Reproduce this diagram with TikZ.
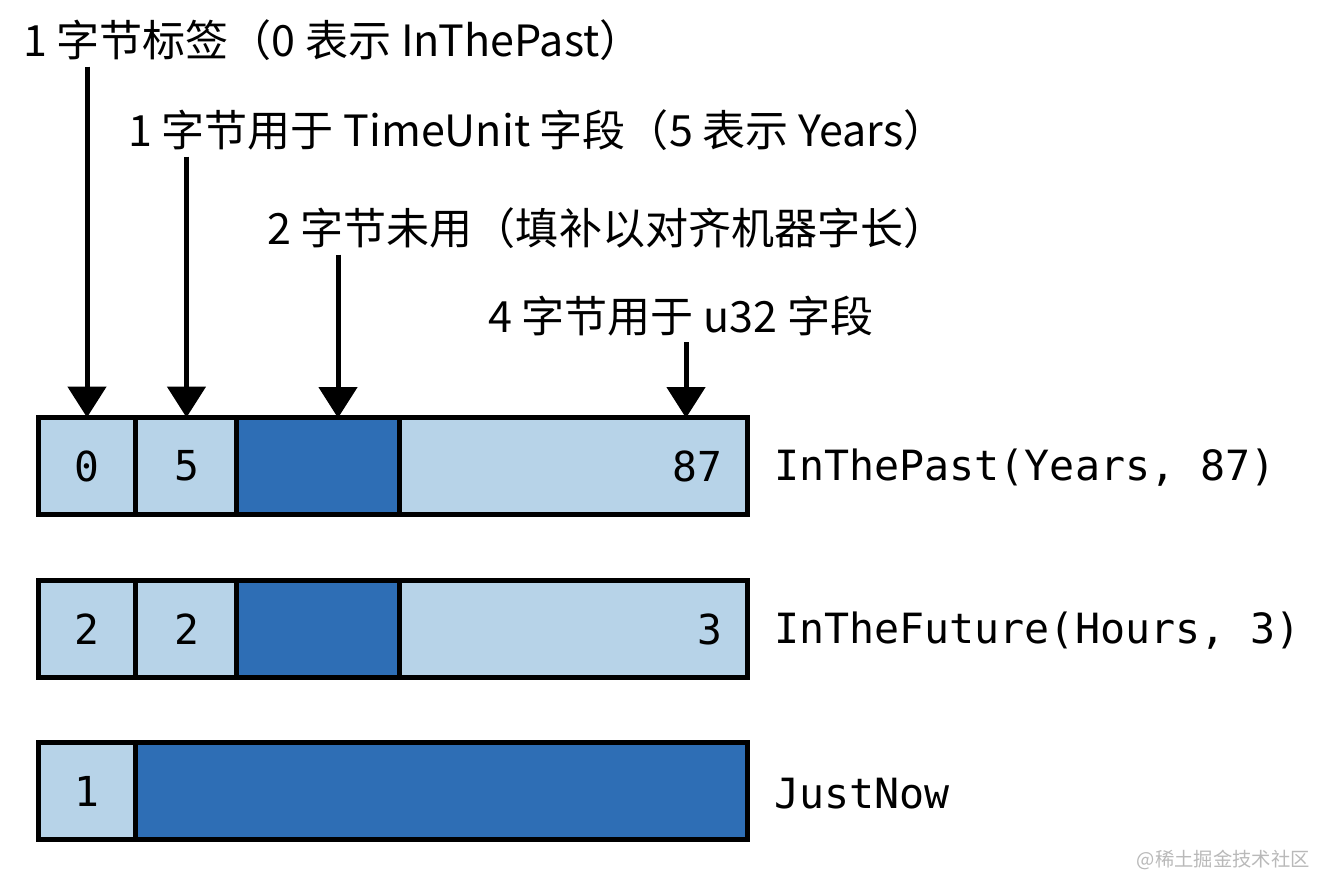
\documentclass[tikz,border=0pt]{standalone}
\usepackage{fontspec}
\setmainfont{Noto Sans CJK SC}
\setmonofont{DejaVu Sans Mono}
\usetikzlibrary{arrows.meta, positioning}
\usepackage{xcolor}

\definecolor{lightcell}{RGB}{183,211,232}
\definecolor{darkcell}{RGB}{46,110,181}

\begin{document}
\begin{tikzpicture}[x=0.02cm, y=-0.02cm, node distance=0pt,
    cell/.style={rectangle, draw=black, line width=0.1cm, outer sep=0pt, inner sep=0pt, minimum height=1.94cm, font=\ttfamily\fontsize{23.5}{23.5}\selectfont},
    light/.style={cell, fill=lightcell},
    dark/.style={cell, fill=darkcell},
    note/.style={anchor=west, font=\fontsize{24.5}{24.5}\selectfont},
    code/.style={anchor=west, font=\ttfamily\fontsize{23.7}{23.7}\selectfont},
    pointer/.style={-{Triangle[width=0.76cm, length=0.62cm]}, line width=0.1cm}]
    \useasboundingbox (0,0) rectangle (1322,878);

    % Notes
    \node (tagNote) [note] at (17,40) {1 字节标签（0 表示 InThePast）};
    \node (unitNote) [note] at (122,130) {1 字节用于 TimeUnit 字段（5 表示 Years）};
    \node (padNote) [note] at (261,228) {2 字节未用（填补以对齐机器字长）};
    \node (valNote) [note] at (482,316) {4 字节用于 u32 字段};

    % Row 1
    \node (pastTag) [light, minimum width=1.96cm] at (87,466) {0};
    \node (pastUnit) [light, minimum width=2.02cm, right=of pastTag] {5};
    \node (pastPad) [dark, minimum width=3.26cm, right=of pastUnit] {};
    \node (pastVal) [light, minimum width=6.96cm, text width=5.95cm, align=right, right=of pastPad] {87};
    \node (pastCode) [code] at (768,468) {InThePast(Years, 87)};

    % Row 2
    \node (futTag) [light, minimum width=1.96cm] at (87,629) {2};
    \node (futUnit) [light, minimum width=2.02cm, right=of futTag] {2};
    \node (futPad) [dark, minimum width=3.26cm, right=of futUnit] {};
    \node (futVal) [light, minimum width=6.96cm, text width=5.95cm, align=right, right=of futPad] {3};
    \node (futCode) [code] at (768,631) {InTheFuture(Hours, 3)};

    % Row 3
    \node (nowTag) [light, minimum width=1.96cm] at (87,791) {1};
    \node (nowPad) [dark, minimum width=12.24cm, right=of nowTag] {};
    \node (nowCode) [code] at (768,794) {JustNow};

    % Arrows
    \coordinate (padTip) at (338,418);
    \coordinate (valTip) at (686,418);
    \draw[pointer] (pastTag.north |- tagNote.south) -- (pastTag.north);
    \draw[pointer] (pastUnit.north |- unitNote.south) -- (pastUnit.north);
    \draw[pointer] (padTip |- padNote.south) -- (padTip);
    \draw[pointer] (valTip |- valNote.south) -- (valTip);

    \node (mark) [anchor=east, text=gray!55, font=\fontsize{11}{11}\selectfont] at (1316,860) {@稀土掘金技术社区};
\end{tikzpicture}
\end{document}
